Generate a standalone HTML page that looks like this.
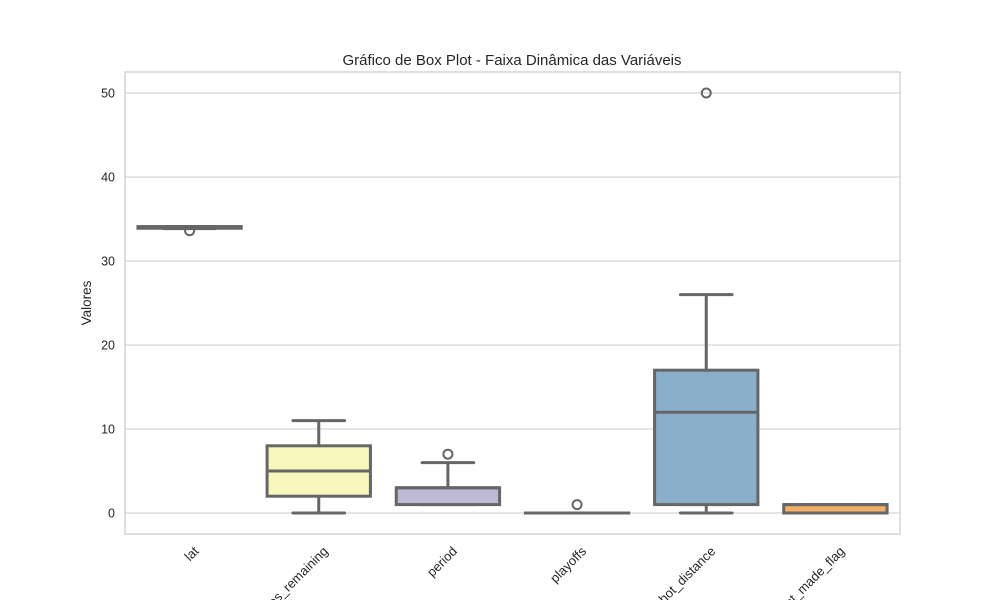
<!DOCTYPE html>
<html><head><meta charset="utf-8"><style>html,body{margin:0;background:#fff;width:1000px;height:600px;overflow:hidden}svg{display:block;font-family:"Liberation Sans",Arial,sans-serif}</style></head>
<body>
<svg id="c" width="1000" height="600">
<rect width="1000" height="600" fill="#fff"/>
<text x="512" y="65" text-anchor="middle" font-size="15" fill="#262626">Gráfico de Box Plot - Faixa Dinâmica das Variáveis</text>
<text transform="translate(91,303) rotate(-90)" text-anchor="middle" font-size="13.5" fill="#262626">Valores</text>
<g id="grid"></g><g id="boxes"></g><g id="labels"></g>
<rect x="125" y="72" width="775" height="462" fill="none" stroke="#ccc" stroke-width="1.25"/>
</svg>
<script>
const categories=["lat","minutes_remaining","period","playoffs","shot_distance","shot_made_flag"];
const q1=[33.9,2,1,0,1,0];
const med=[34.0,5,3,0,12,1];
const q3=[34.1,8,3,0,17,1];
const whLo=[33.85,0,1,0,0,0];
const whHi=[34.1,11,6,0,26,1];
const outliers=[[33.6],[],[7],[1],[50],[]];
const yTicks=[0,10,20,30,40,50];
const colors=["#7fbfb3","#f7f7bb","#bebad6","#f08a80","#89afcb","#f3ae69"];
const ns="http://www.w3.org/2000/svg";
const X0=125,W=775,Y=v=>513-v*8.4,step=W/categories.length,X=i=>X0+step*(i+0.5);
function el(t,a,p){const e=document.createElementNS(ns,t);for(const k in a)e.setAttribute(k,a[k]);p.appendChild(e);return e;}
const g=document.getElementById('grid'),b=document.getElementById('boxes'),l=document.getElementById('labels');
yTicks.forEach(v=>{
const ln=el('line',{x1:X0,x2:X0+W,y1:Y(v),y2:Y(v),stroke:'#ccc','stroke-width':1.1},g);


const t=el('text',{x:115,y:Y(v)+4.5,'text-anchor':'end','font-size':12.5,fill:'#262626'},l);
t.textContent=v;


});
categories.forEach((c,i)=>{
const cx=X(i),bw=step*0.8,cw=bw/2,s='#666',sw=3;
const grp=el('g',{},b);


el('line',{x1:cx,x2:cx,y1:Y(q3[i]),y2:Y(whHi[i]),stroke:s,'stroke-width':sw},grp);
el('line',{x1:cx,x2:cx,y1:Y(q1[i]),y2:Y(whLo[i]),stroke:s,'stroke-width':sw},grp);
el('line',{x1:cx-cw/2,x2:cx+cw/2,y1:Y(whHi[i]),y2:Y(whHi[i]),stroke:s,'stroke-width':sw,'stroke-linecap':'round'},grp);
el('line',{x1:cx-cw/2,x2:cx+cw/2,y1:Y(whLo[i]),y2:Y(whLo[i]),stroke:s,'stroke-width':sw,'stroke-linecap':'round'},grp);
el('rect',{x:cx-bw/2,y:Y(q3[i]),width:bw,height:Math.max(Y(q1[i])-Y(q3[i]),0.01),fill:colors[i],stroke:s,'stroke-width':sw},grp);
el('line',{x1:cx-bw/2,x2:cx+bw/2,y1:Y(med[i]),y2:Y(med[i]),stroke:s,'stroke-width':sw},grp);
outliers[i].forEach(o=>{const ci=el('circle',{cx:cx,cy:Y(o),r:4.5,fill:'none',stroke:s,'stroke-width':2},grp);

});
const t=el('text',{transform:`translate(${cx+10},${552}) rotate(-45)`,'text-anchor':'end','font-size':13,fill:'#262626'},l);
t.textContent=c;


});
</script>
</body></html>
